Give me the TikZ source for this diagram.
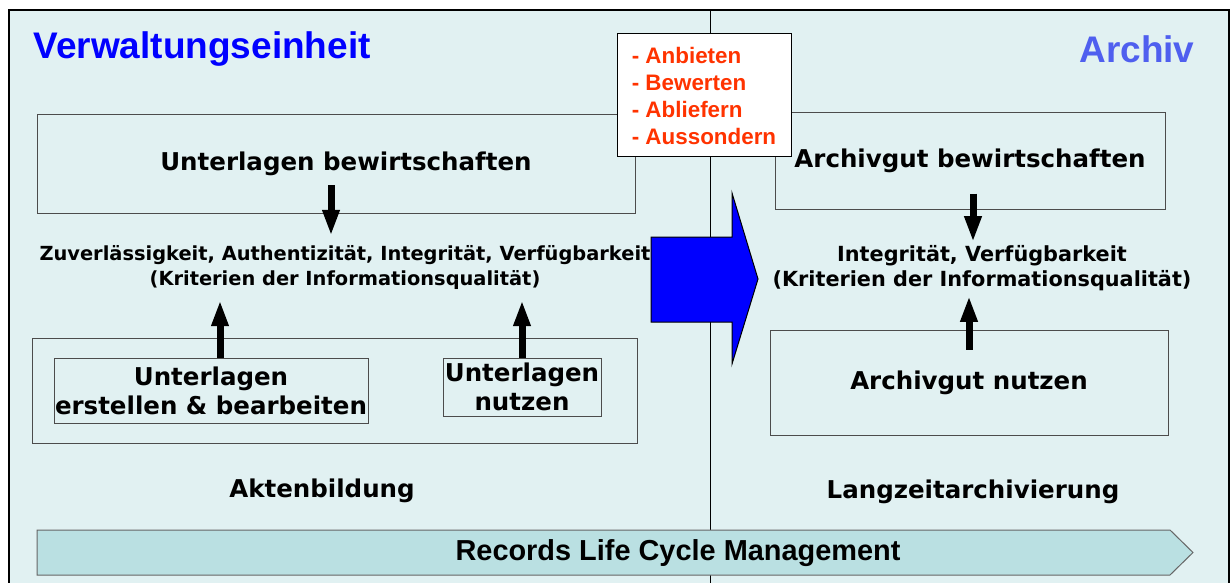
\documentclass[tikz,border=0pt]{standalone}
\usepackage{fontspec}
\usetikzlibrary{arrows.meta,positioning}
\newfontfamily\verd{DejaVu Sans}
\newfontfamily\arialfont{Liberation Sans}
\definecolor{panel}{RGB}{225,241,242}
\definecolor{lcm}{RGB}{186,224,226}
\definecolor{titleblue}{RGB}{0,0,255}
\definecolor{archblue}{RGB}{79,95,239}
\definecolor{redtxt}{RGB}{255,51,0}

\begin{document}
\begin{tikzpicture}[x=1pt,y=-1pt,
    box/.style={draw=black!70,line width=1pt,inner sep=0pt},
    label text/.style={font=\verd\bfseries\fontsize{24.5}{29}\selectfont,align=center},
    crit text/.style={font=\verd\bfseries\fontsize{19.4}{25}\selectfont,align=center,inner sep=10pt},
    title text/.style={font=\arialfont\bfseries\fontsize{37}{44}\selectfont},
    thick arrow/.style={line width=7pt,-{Triangle[width=16pt,length=26pt]}}]
    \useasboundingbox (0,0) rectangle (1232,583);
    % panel and divider
    \fill[panel] (9,10) rectangle (1229,600);
    \draw[line width=1.5pt] (9,600) -- (9,10) -- (1229,10) -- (1229,600);
    \draw[line width=1pt] (710,10) -- (710,600);

    \node[title text,text=titleblue,anchor=west] (verw) at (30,49) {Verwaltungseinheit};
    \node[title text,text=archblue,anchor=east] (archiv) at (1198,49) {Archiv};

    % Verwaltungseinheit
    \node[box,label text,minimum width=598pt,minimum height=98pt] (bew) at (336,164) {\hspace*{20pt}Unterlagen bewirtschaften};
    \node[crit text] (critL) at (345,268) {Zuverlässigkeit, Authentizität, Integrität, Verfügbarkeit\\(Kriterien der Informationsqualität)};
    \node[box,minimum width=605pt,minimum height=105pt] (akten) at (334.5,390.5) {};
    \node[box,label text,minimum width=314pt,minimum height=65pt] (erstellen) at (211,390.5) {Unterlagen\\erstellen \& bearbeiten};
    \node[box,label text,minimum width=158pt,minimum height=58pt] (nutzenL) at (522,387) {Unterlagen\\nutzen};
    \node[label text] (aktenlabel) at (322,491) {Aktenbildung};

    % Archiv
    \node[box,label text,minimum width=390pt,minimum height=96pt] (archbew) at (970,161) {Archivgut bewirtschaften};
    \node[crit text,font=\verd\bfseries\fontsize{20.8}{25}\selectfont,inner sep=8pt] (critR) at (982,268) {Integrität, Verfügbarkeit\\(Kriterien der Informationsqualität)};
    \node[box,label text,minimum width=398pt,minimum height=105pt] (archnutzen) at (969,382.5) {Archivgut nutzen};
    \node[label text] (langlabel) at (973,492) {Langzeitarchivierung};

    \draw[thick arrow] ([xshift=-5pt,yshift=28pt]bew.south) -- ([xshift=-5pt]bew.south |- critL.north);
    \draw[thick arrow] ([xshift=9pt]erstellen.north) -- ([xshift=9pt]erstellen.north |- critL.south);
    \draw[thick arrow] (nutzenL.north) -- (nutzenL.north |- critL.south);
    \draw[thick arrow] ([xshift=3pt,yshift=16pt]archbew.south) -- ([xshift=3pt,yshift=-5pt]archbew.south |- critR.north);
    \draw[thick arrow] ([yshift=-20pt]archnutzen.north) -- ([yshift=3pt]archnutzen.north |- critR.south);

    % uebergabe
    \draw[fill=titleblue,line width=1pt,line join=miter]
        (651,237) -- (732,237) -- (732,193) -- (758,279) -- (732,364) -- (732,322) -- (651,322) -- cycle;
    \node[draw,line width=1pt,fill=white,minimum width=174pt,minimum height=123pt,
        font=\arialfont\bfseries\fontsize{22.4}{27}\selectfont,text=redtxt,align=left] (aussond) at (704,95.5)
        {- Anbieten\\- Bewerten\\- Abliefern\\- Aussondern};

    % life cycle
    \draw[fill=lcm,draw=black!60,line width=1pt] (37,530) -- (1170,530) -- (1193,552.5) -- (1170,575) -- (37,575) -- cycle;
    \node[font=\arialfont\bfseries\fontsize{28.9}{34}\selectfont] (rlcm) at (678,553) {Records Life Cycle Management};
\end{tikzpicture}
\end{document}
